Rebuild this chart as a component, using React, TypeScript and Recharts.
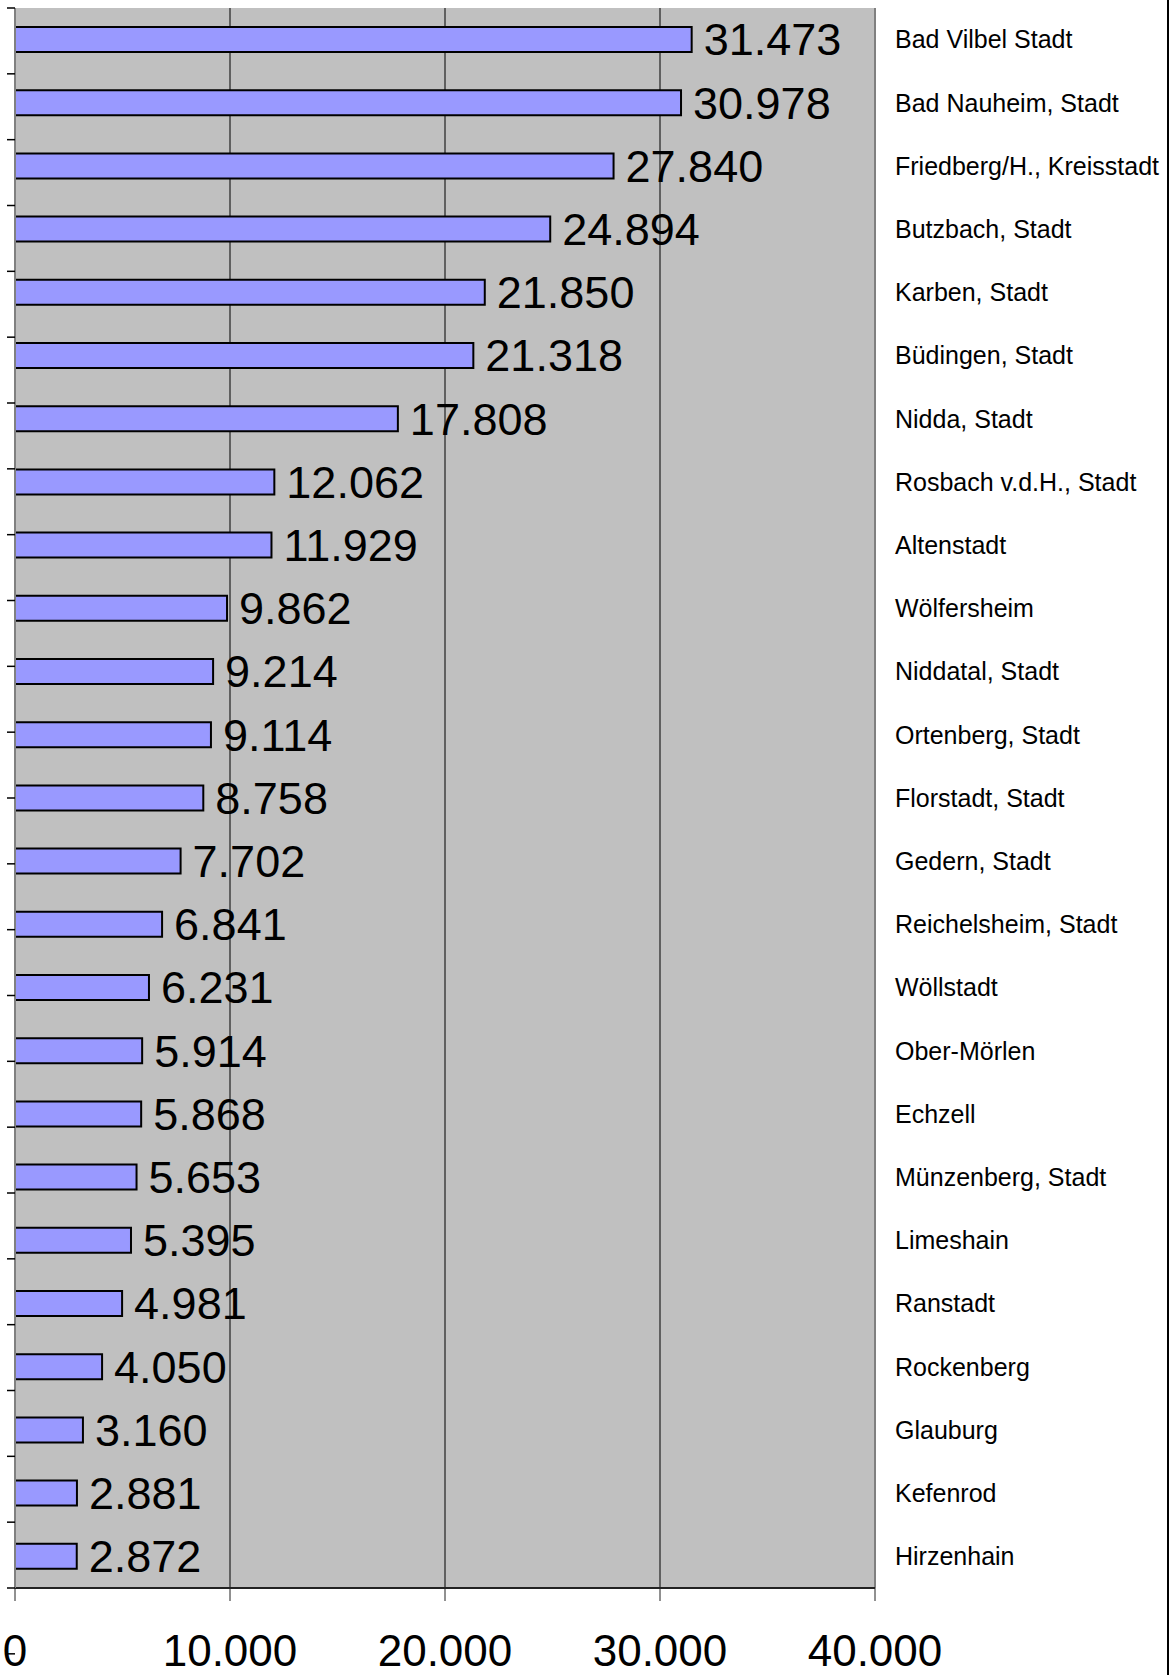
import { BarChart, Bar, XAxis, YAxis, CartesianGrid, ReferenceLine, LabelList } from 'recharts'

const towns = [
  'Bad Vilbel Stadt',
  'Bad Nauheim, Stadt',
  'Friedberg/H., Kreisstadt',
  'Butzbach, Stadt',
  'Karben, Stadt',
  'Büdingen, Stadt',
  'Nidda, Stadt',
  'Rosbach v.d.H., Stadt',
  'Altenstadt',
  'Wölfersheim',
  'Niddatal, Stadt',
  'Ortenberg, Stadt',
  'Florstadt, Stadt',
  'Gedern, Stadt',
  'Reichelsheim, Stadt',
  'Wöllstadt',
  'Ober-Mörlen',
  'Echzell',
  'Münzenberg, Stadt',
  'Limeshain',
  'Ranstadt',
  'Rockenberg',
  'Glauburg',
  'Kefenrod',
  'Hirzenhain',
]

const residents = [
  31473, 30978, 27840, 24894, 21850, 21318, 17808, 12062, 11929, 9862, 9214, 9114, 8758, 7702, 6841, 6231, 5914,
  5868, 5653, 5395, 4981, 4050, 3160, 2881, 2872,
]

const xTicks = [0, 10000, 20000, 30000, 40000]
const edgeTicks = Array.from({ length: towns.length + 1 }, (_, i) => i)

const data = towns.map((name, i) => ({ name, value: residents[i] }))

const fmt = (v: number) => String(v).replace(/\B(?=(\d{3})+(?!\d))/g, '.')

const FONT = '"Liberation Sans", Arial, sans-serif'

const XTick = ({ x, y, payload }: any) => (
  <text x={x} y={y + 34} dy="0.71em" textAnchor="middle" fontSize={44} fontFamily={FONT} fill="#000">
    {fmt(payload.value)}
  </text>
)

const TownTick = ({ x, y, payload }: any) => (
  <text x={x + 20} y={y} dy="0.355em" textAnchor="start" fontSize={25} fontFamily={FONT} fill="#000">
    {payload.value}
  </text>
)

const NoLabel = () => <g />

export default function App() {
  return (
    <div style={{ position: 'absolute', left: 0, top: 0, width: 1175, height: 1675, background: '#fff' }}>
      <BarChart
        width={1175}
        height={1675}
        data={data}
        layout="vertical"
        margin={{ top: 8, right: 0, bottom: 0, left: 0 }}
        barCategoryGap={0}
      >
        <CartesianGrid horizontal={false} fill="#C0C0C0" fillOpacity={1} stroke="#000" strokeWidth={1} />
        <XAxis
          type="number"
          domain={[0, 40000]}
          ticks={xTicks}
          interval={0}
          height={87}
          tickSize={13}
          tickMargin={0}
          tick={<XTick />}
          axisLine={{ stroke: '#222', strokeWidth: 2 }}
          tickLine={{ stroke: '#222', strokeWidth: 1 }}
        />
        <YAxis
          yAxisId="edge"
          type="number"
          orientation="left"
          domain={[0, towns.length]}
          ticks={edgeTicks}
          interval={0}
          width={15}
          tickSize={8}
          tick={<NoLabel />}
          axisLine={{ stroke: '#808080', strokeWidth: 2 }}
          tickLine={{ stroke: '#000', strokeWidth: 1.5 }}
        />
        <YAxis
          yAxisId="cat"
          type="category"
          dataKey="name"
          orientation="right"
          width={300}
          interval={0}
          tickSize={0}
          tickMargin={0}
          axisLine={false}
          tickLine={false}
          tick={<TownTick />}
        />
        <ReferenceLine yAxisId="cat" x={40000} stroke="#808080" strokeWidth={2} />
        <ReferenceLine yAxisId="edge" y={towns.length} stroke="#808080" strokeWidth={2} />
        <Bar
          yAxisId="cat"
          dataKey="value"
          barSize={25}
          fill="#9999FF"
          stroke="#000"
          strokeWidth={2}
          isAnimationActive={false}
        >
          <LabelList
            dataKey="value"
            position="right"
            offset={12}
            formatter={(v: any) => fmt(Number(v))}
            style={{ fontSize: 45, fontFamily: FONT, fill: '#000' }}
          />
        </Bar>
      </BarChart>
      <div style={{ position: 'absolute', left: 1167, top: 0, width: 2, height: 1675, background: '#000' }} />
    </div>
  )
}
